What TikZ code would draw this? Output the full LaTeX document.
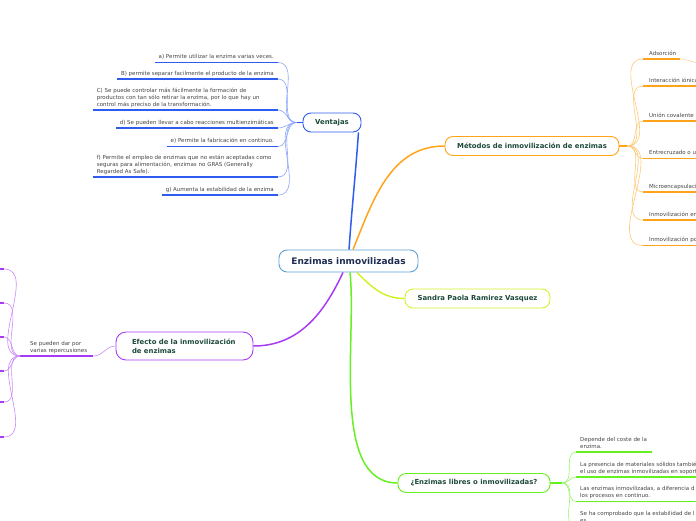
\documentclass[tikz,border=0pt]{standalone}
\usepackage{fontspec}
\setmainfont{DejaVu Sans}
\usetikzlibrary{positioning, calc}
\definecolor{rootline}{RGB}{93,162,213}
\definecolor{roottext}{RGB}{31,45,82}
\definecolor{topictext}{RGB}{30,74,58}
\definecolor{leaftext}{RGB}{68,68,68}
\definecolor{mapblue}{RGB}{47,92,240}
\definecolor{maporange}{RGB}{255,163,26}
\definecolor{mapyellow}{RGB}{212,240,42}
\definecolor{mappurple}{RGB}{168,60,245}
\definecolor{mapgreen}{RGB}{102,240,34}

\begin{document}
\begin{tikzpicture}[x=1pt, y=-1pt,
  rootbox/.style={draw=rootline, line width=0.9pt, rounded corners=8pt, fill=white, text=roottext,
    font=\bfseries\fontsize{9}{11}\selectfont, minimum width=139pt, minimum height=22pt, inner sep=0pt},
  topicbox/.style={draw, line width=0.9pt, rounded corners=8pt, fill=white, text=topictext,
    font=\bfseries\fontsize{6.9}{9}\selectfont, minimum height=19pt, inner sep=0pt},
  leaf/.style={text=leaftext, font=\fontsize{5.5}{7}\selectfont, inner sep=0pt, align=left,
    execute at end node=\strut},
  branch/.style={line width=1.5pt},
  uline/.style={line width=1.6pt},
  twig/.style={line width=0.6pt}
]
  \useasboundingbox (0,0) rectangle (696,520);

  % main topics
  \node[rootbox] (root) at (348.5,261) {Enzimas inmovilizadas};
  \node[topicbox, draw=mapblue, minimum width=58pt] (ventajas) at (332,122.5) {Ventajas};
  \node[topicbox, draw=maporange, minimum width=174pt] (metodos) at (532,146) {Métodos de inmovilización de enzimas};
  \node[topicbox, draw=mapyellow, minimum width=145pt] (autora) at (477.5,298.5) {Sandra Paola Ramirez Vasquez};
  \node[topicbox, draw=mappurple, rounded corners=10pt, minimum height=28pt, text width=105pt,
    inner xsep=16pt, align=left] (efecto) at (184.5,346) {Efecto de la inmovilización\\de enzimas};
  \node[topicbox, draw=mapgreen, minimum width=152pt] (libres) at (474,483) {¿Enzimas libres o inmovilizadas?};

  \draw[branch, mapblue] ($(root.north)+(0.5,0)$) to[out=86, in=-94] ($(ventajas.south east)+(-3,0)$);
  \draw[branch, maporange] ($(root.north)+(4.5,0)$) to[out=68, in=180] (metodos.west);
  \draw[branch, mapyellow] ($(root.south)+(8.5,0)$) to[out=-45, in=180] (autora.west);
  \draw[branch, mappurple] ($(root.south)+(-5.5,0)$) to[out=-115, in=0] (efecto.east);
  \draw[branch, mapgreen] ($(root.south)+(1.5,0)$) to[out=-84, in=180, looseness=0.8] (libres.west);

  % Ventajas
  \coordinate (vhub) at ($(ventajas.west)+(-6,0)$);
  \draw[uline, mapblue] (vhub) -- (ventajas.west);
  \node[leaf, anchor=south east] (va) at (274,60.9) {a) Permite utilizar la enzima varias veces.};
  \node[leaf, anchor=south east] (vb) at (274,77.4) {B) permite separar facilmente el producto de la enzima};
  \node[leaf, anchor=south east, text width=177pt] (vc) at (274,108.4) {C) Se puede controlar más fácilmente la formación de\\productos con tan sólo retirar la enzima, por lo que hay un\\control más preciso de la transformación.};
  \node[leaf, anchor=south east] (vd) at (274,126.4) {d) Se pueden llevar a cabo reacciones multienzimáticas};
  \node[leaf, anchor=south east] (ve) at (274,144.9) {e) Permite la fabricación en continuo.};
  \node[leaf, anchor=south east, text width=177pt] (vf) at (274,175.4) {f) Permite el empleo de enzimas que no están aceptadas como\\seguras para alimentación, enzimas no GRAS (Generally\\Regarded As Safe).};
  \node[leaf, anchor=south east] (vg) at (274,193.4) {g) Aumenta la estabilidad de la enzima};
  \foreach \v in {va, vb, vc, vd, ve, vf, vg} {
    \draw[uline, mapblue] ($(\v.south west)+(-3.5,1.6)$) -- ($(\v.south east)+(4,1.6)$) coordinate (\v-end);
    \draw[twig, mapblue!55] (\v-end) to[out=0, in=180] (vhub);
  }

  % Metodos
  \coordinate (mhub) at ($(metodos.east)+(8,0)$);
  \draw[uline, maporange] (metodos.east) -- (mhub);
  \node[leaf, anchor=south west] (ma) at (649,57.4) {Adsorción};
  \node[leaf, anchor=south west] (mb) at (649,84.4) {Interacción iónica};
  \node[leaf, anchor=south west] (mc) at (649,119.4) {Unión covalente};
  \node[leaf, anchor=south west] (md) at (649,156.9) {Entrecruzado o u};
  \node[leaf, anchor=south west] (me) at (649,190.4) {Microencapsulació};
  \node[leaf, anchor=south west] (mf) at (649,218.4) {Inmovilización en};
  \node[leaf, anchor=south west] (mg) at (649,243.9) {Inmovilización po};
  \foreach \m in {ma, mb, mc, md, me, mf, mg} {
    \coordinate (\m-start) at ($(\m.south west)+(-6,1.6)$);
    \draw[twig, maporange!60] (mhub) to[out=0, in=180] (\m-start);
  }
  \draw[uline, maporange] (ma-start) -- ++(37,0) coordinate (ma-end);
  \draw[twig, maporange!45] (ma-end) to[out=0, in=180] ++(20,4);
  \foreach \m in {mb, mc, md, me, mf, mg}
    \draw[uline, maporange] (\m-start) -- ++(60,0);

  % Efecto
  \node[leaf, anchor=south west] (rep) at (30,354.4) {Se pueden dar por\\varias repercusiones};
  \draw[uline, mappurple] ($(rep.south west)+(-10,1.6)$) coordinate (rhub) -- ($(rep.south east)+(6,1.6)$) coordinate (rep-end);
  \draw[twig, mappurple!60] (rep-end) to[out=0, in=180] (efecto.west);
  \foreach \y [count=\i] in {269, 303, 337, 371, 402, 437} {
    \coordinate (p\i) at (4,\y);
    \draw[twig, mappurple!60] (rhub) to[out=180, in=0] (p\i);
    \draw[uline, mappurple] (p\i) -- ++(-6,0);
  }

  % Libres o inmovilizadas
  \coordinate (ehub) at ($(libres.east)+(12,0)$);
  \draw[uline, mapgreen] (libres.east) -- (ehub);
  \node[leaf, anchor=south west] (ga) at (580,450.4) {Depende del coste de la\\enzima.};
  \node[leaf, anchor=south west] (gb) at (580,475.4) {La presencia de materiales sólidos tambié\\el uso de enzimas inmovilizadas en soport};
  \node[leaf, anchor=south west] (gc) at (580,499.9) {Las enzimas inmovilizadas, a diferencia d\\los procesos en continuo.};
  \node[leaf, anchor=south west] (gd) at (580,524.4) {Se ha comprobado que la estabilidad de l\\es};
  \foreach \g in {ga, gb, gc, gd} {
    \coordinate (\g-start) at ($(\g.south west)+(-4,1.6)$);
    \draw[twig, mapgreen!70] (ehub) to[out=0, in=180] (\g-start);
  }
  \draw[uline, mapgreen] (ga-start) -- ++(76,0);
  \foreach \g in {gb, gc, gd}
    \draw[uline, mapgreen] (\g-start) -- ++(125,0);
\end{tikzpicture}
\end{document}
